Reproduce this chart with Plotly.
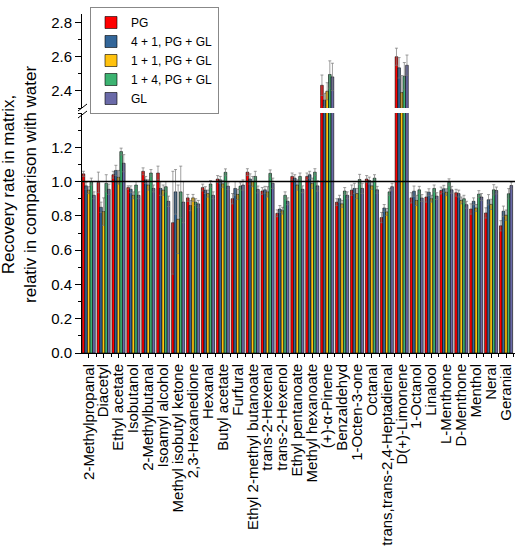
import plotly.graph_objects as go

categories = ["2-Methylpropanal", "Diacetyl", "Ethyl acetate", "Isobutanol", "2-Methylbutanal",
              "Isoamyl alcohol", "Methyl isobutyl ketone", "2,3-Hexanedione", "Hexanal", "Butyl acetate",
              "Furfural", "Ethyl 2-methyl butanoate", "trans-2-Hexenal", "trans-2-Hexenol",
              "Ethyl pentanoate", "Methyl hexanoate", "(+)-α-Pinene", "Benzaldehyd", "1-Octen-3-one",
              "Octanal", "trans,trans-2,4-Heptadienal", "D(+)-Limonene", "1-Octanol", "Linalool",
              "L-Menthone", "D-Menthone", "Menthol", "Neral", "Geranial"]

series_names = ["PG", "4 + 1, PG + GL", "1 + 1, PG + GL", "1 + 4, PG + GL", "GL"]

pg = [1.045, 0.995, 1.04, 0.965, 1.06, 1.05, 0.76, 0.905, 0.965, 1.015, 0.90, 1.055, 0.945, 0.815,
      1.03, 1.03, 2.433, 0.88, 0.95, 1.015, 0.79, 2.60, 0.905, 0.91, 0.948, 0.935, 0.84, 0.817, 0.742]
pg41 = [0.975, 0.85, 1.065, 0.955, 1.01, 0.96, 0.94, 0.86, 0.95, 1.01, 0.96, 1.015, 0.952, 0.84,
        1.02, 1.04, 2.346, 0.90, 0.96, 1.006, 0.846, 2.535, 0.944, 0.938, 0.958, 0.93, 0.885, 0.894, 0.827]
pg11 = [0.95, 0.825, 1.025, 0.92, 0.98, 0.95, 0.78, 0.905, 0.93, 0.987, 0.925, 1.0, 0.94, 0.83,
        0.98, 0.99, 2.398, 0.87, 0.93, 0.975, 0.823, 2.39, 0.89, 0.90, 0.938, 0.89, 0.846, 0.867, 0.804]
pg14 = [1.0, 0.99, 1.175, 0.98, 1.05, 0.97, 0.94, 0.88, 0.986, 1.054, 0.973, 1.03, 1.048, 0.92,
        1.03, 1.055, 2.496, 0.945, 1.012, 1.02, 0.94, 2.486, 0.952, 0.96, 0.996, 0.90, 0.927, 0.952, 0.929]
gl = [0.92, 0.955, 1.107, 0.92, 0.96, 0.885, 0.88, 0.87, 0.92, 0.973, 0.98, 0.954, 0.99, 0.885,
      0.955, 0.975, 2.482, 0.92, 0.96, 0.952, 0.97, 2.55, 0.904, 0.915, 0.952, 0.865, 0.91, 0.948, 0.977]

err_pg = [0.015, 0.06, 0.02, 0.01, 0.02, 0.04, 0.3, 0.02, 0.02, 0.02, 0.03, 0.02, 0.02, 0.02, 0.02,
          0.02, 0.06, 0.02, 0.03, 0.02, 0.03, 0.05, 0.03, 0.03, 0.02, 0.02, 0.03, 0.03, 0.03]
err_pg41 = [0.02, 0.03, 0.03, 0.02, 0.02, 0.04, 0.13, 0.03, 0.02, 0.02, 0.04, 0.03, 0.02, 0.02, 0.02,
            0.02, 0.04, 0.02, 0.03, 0.02, 0.02, 0.06, 0.03, 0.02, 0.02, 0.02, 0.02, 0.03, 0.03]
err_pg11 = [0.02, 0.08, 0.04, 0.02, 0.03, 0.03, 0.2, 0.02, 0.02, 0.02, 0.03, 0.03, 0.03, 0.02, 0.03,
            0.03, 0.05, 0.02, 0.03, 0.02, 0.02, 0.1, 0.03, 0.02, 0.02, 0.02, 0.02, 0.03, 0.03]
err_pg14 = [0.02, 0.05, 0.02, 0.02, 0.02, 0.03, 0.15, 0.02, 0.02, 0.02, 0.02, 0.03, 0.02, 0.02, 0.02,
            0.02, 0.08, 0.02, 0.03, 0.02, 0.02, 0.08, 0.02, 0.02, 0.02, 0.02, 0.02, 0.03, 0.03]
err_gl = [0.02, 0.03, 0.05, 0.02, 0.02, 0.03, 0.12, 0.02, 0.02, 0.02, 0.03, 0.02, 0.03, 0.02, 0.02,
          0.03, 0.08, 0.02, 0.03, 0.02, 0.02, 0.06, 0.02, 0.02, 0.02, 0.02, 0.02, 0.02, 0.02]

colors = ["#ff0000", "#336699", "#ffc20e", "#3cb371", "#6a6aa8"]
values = [pg, pg41, pg11, pg14, gl]
errors = [err_pg, err_pg41, err_pg11, err_pg14, err_gl]

xpos = list(range(len(categories)))
FONT = "Liberation Sans, Arial, sans-serif"

fig = go.Figure()
for yax in ["y", "y2"]:
    for name, vals, errs, col in zip(series_names, values, errors, colors):
        fig.add_trace(go.Bar(
            x=xpos, y=vals, name=name, marker=dict(color=col, line=dict(color="#000000", width=0.6)),
            error_y=dict(type="data", array=errs, visible=True, color="#777777", thickness=0.7, width=1.5),
            yaxis=yax, showlegend=(yax == "y"),
        ))

H = 339.0
W = 433.0
def px(x):
    return (x - 82) / W
def py(y):
    return (353 - y) / H

fig.update_layout(
    width=519, height=550,
    margin=dict(l=82, r=4, t=14, b=197),
    paper_bgcolor="white", plot_bgcolor="white",
    barmode="group", bargap=0.12, bargroupgap=0,
    font=dict(family=FONT, size=14, color="#000000"),
    xaxis=dict(
        range=[-0.45, 28.6], tickmode="array", tickvals=xpos, ticktext=categories,
        tickangle=-90, tickfont=dict(size=15), showline=True, linecolor="#000", linewidth=1,
        ticks="outside", ticklen=4, tickcolor="#000", showgrid=False, zeroline=False,
        minor=dict(tickvals=[i + 0.5 for i in xpos], ticks="outside", ticklen=3, tickcolor="#000"),
        anchor="y", automargin=False,
    ),
    yaxis=dict(
        domain=[0, 240 / H], range=[0, 1.4], tickvals=[0, 0.2, 0.4, 0.6, 0.8, 1.0, 1.2],
        ticktext=["0.0", "0.2", "0.4", "0.6", "0.8", "1.0", "1.2"],
        showline=True, linecolor="#000", linewidth=1, ticks="outside", ticklen=6, tickcolor="#000",
        minor=dict(dtick=0.1, ticks="outside", ticklen=3, tickcolor="#000"),
        showgrid=False, zeroline=False, anchor="x", tickfont=dict(size=15), automargin=False,
    ),
    yaxis2=dict(
        domain=[245 / H, 1], range=[2.3, 2.85], tickvals=[2.4, 2.6, 2.8],
        ticktext=["2.4", "2.6", "2.8"],
        showline=True, linecolor="#000", linewidth=1, ticks="outside", ticklen=6, tickcolor="#000",
        minor=dict(dtick=0.1, ticks="outside", ticklen=3, tickcolor="#000"),
        showgrid=False, zeroline=False, anchor="x", tickfont=dict(size=15), automargin=False,
    ),
    legend=dict(
        x=px(90), y=py(7), xanchor="left", yanchor="top",
        bgcolor="white", bordercolor="#888888", borderwidth=1,
        font=dict(size=12), tracegroupgap=0, itemwidth=30,
    ),
    showlegend=True,
)

fig.add_shape(type="line", xref="paper", x0=0, x1=1, yref="y", y0=1.0, y1=1.0,
              line=dict(color="#000000", width=1.5))
# axis break marks
fig.add_shape(type="line", xref="paper", yref="paper", x0=px(78), x1=px(87), y0=py(111), y1=py(104),
              line=dict(color="#000", width=1))
fig.add_shape(type="line", xref="paper", yref="paper", x0=px(78), x1=px(87), y0=py(118), y1=py(111),
              line=dict(color="#000", width=1))

fig.add_annotation(
    text="Recovery rate in matrix,<br>relativ in comparison with water",
    xref="paper", yref="paper", x=px(19), y=py(185), xanchor="center", yanchor="middle",
    textangle=-90, showarrow=False, font=dict(size=17, family=FONT),
)

fig.write_html("out.html", config={"displayModeBar": False},
               post_script="document.body.style.margin='0';document.body.style.padding='0';")
